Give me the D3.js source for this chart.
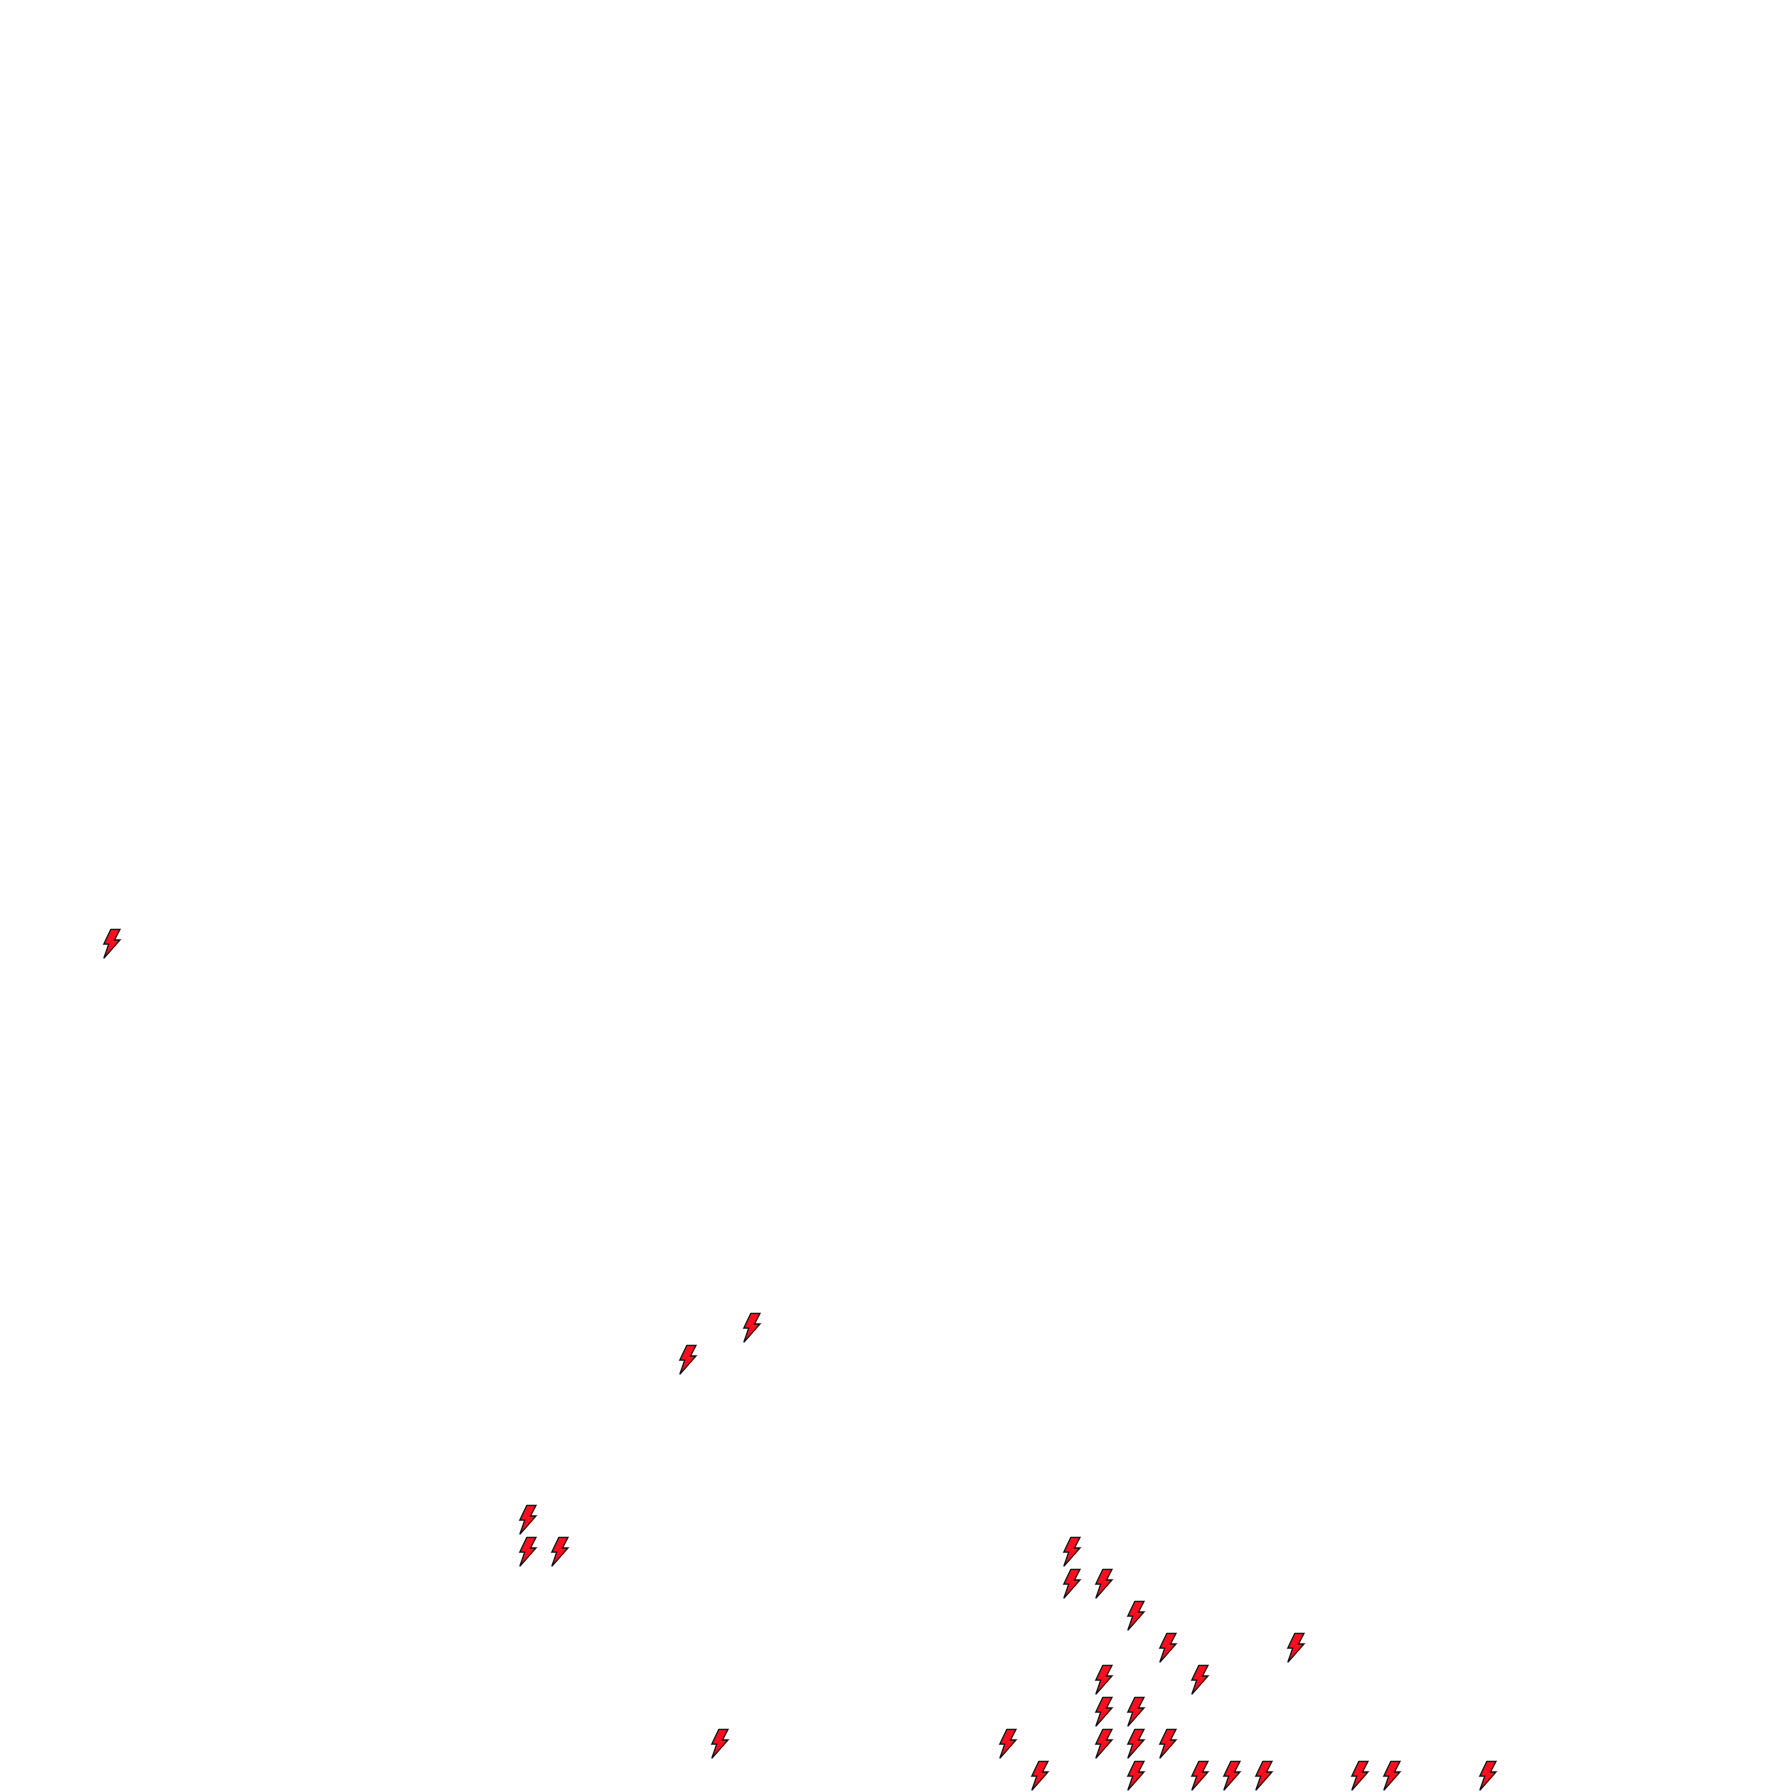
<!DOCTYPE html>
<html>
<head>
<meta charset="utf-8">
<script src="https://cdn.jsdelivr.net/npm/d3@7/dist/d3.min.js"></script>
<style>html,body{margin:0;padding:0;background:#fff}svg{display:block}</style>
</head>
<body>
<svg id="chart" width="1792" height="1792"></svg>
<script>
const columns = [0,20,18,13,13,14,30,30,31,32,33,37,31,34,31,32,19,28,31,32,33,29,32,34,35,36,39,40,43];
const rows    = [26,14,13, 8, 7, 7, 7, 6, 6, 5, 4, 4, 3, 3, 2, 2, 1, 1, 1, 1, 1, 0, 0, 0, 0, 0, 0, 0, 0];
const fillColor = "#ff0d1e";
const strokeColor = "#111";
const x = d3.scaleLinear().domain([0, 43]).range([103, 1479]);
const y = d3.scaleLinear().domain([0, 26]).range([1760, 928]);
const bolt = "M7.8,1.3 L17,1.3 L11.5,12 L17,12 L0.8,30.3 L5.8,16 L0.8,16 Z";
d3.select("#chart").append("g").selectAll("path")
  .data(columns.map((c,i)=>({c, r: rows[i]})))
  .join("path")
  .attr("d", bolt)
  .attr("transform", d => `translate(${x(d.c)},${y(d.r)})`)
  .attr("fill", fillColor)
  .attr("stroke", strokeColor)
  .attr("stroke-width", 1.3)
  .attr("stroke-linejoin", "miter");
</script>
</body>
</html>
